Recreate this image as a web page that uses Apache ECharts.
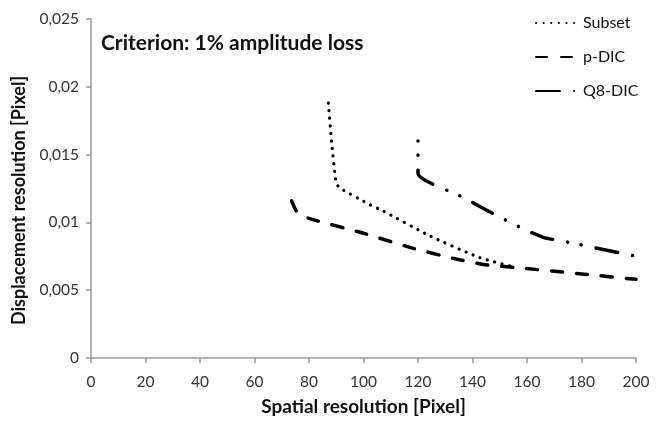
<!DOCTYPE html>
<html>
<head>
<meta charset="utf-8">
<script src="https://cdn.jsdelivr.net/npm/echarts@6/dist/echarts.min.js"></script>
<style>
html,body{margin:0;padding:0;background:#fff;}
#chart{width:660px;height:421px;}
</style>
</head>
<body>
<div id="chart"></div>
<script>
var titleText = "Criterion: 1% amplitude loss";
var xName = "Spatial resolution [Pixel]";
var yName = "Displacement resolution [Pixel]";
var seriesNames = ["Subset", "p-DIC", "Q8-DIC"];

var subsetData = [
  [87.1, 0.0188], [88.3, 0.0159], [89.9, 0.0130], [91.1, 0.01257],
  [102.4, 0.0113], [106.7, 0.0109], [124.4, 0.0090], [142.7, 0.0074], [155.5, 0.0067]
];
var pdicData = [
  [73.6, 0.0116], [75.5, 0.0108], [80, 0.0103], [100, 0.0092], [118, 0.0081],
  [134, 0.0073], [144, 0.0069], [157, 0.00665], [180, 0.0062], [200, 0.0058]
];
var q8Data = [
  [120, 0.0160], [120, 0.0136], [136, 0.0119], [148, 0.0106], [160, 0.0094],
  [166, 0.0089], [176, 0.0085], [200, 0.0075]
];

var fontFam = "Lato, 'Open Sans', sans-serif";
var chart = echarts.init(document.getElementById('chart'), null, {renderer: 'canvas'});

function fmtY(v) {
  if (v === 0) return "0";
  return String(+v.toFixed(3)).replace('.', ',');
}

chart.setOption({
  animation: false,
  backgroundColor: '#fff',
  color: ['#000', '#000', '#000'],
  title: {
    text: titleText,
    left: 96, top: 28,
    textStyle: {fontFamily: fontFam, fontSize: 21, fontWeight: 'bold', color: '#111'}
  },
  legend: {
    orient: 'vertical',
    left: 530, top: 10,
    itemWidth: 42, itemHeight: 14, itemGap: 18,
    data: [
      {name: seriesNames[0]},
      {name: seriesNames[1]},
      {name: seriesNames[2], lineStyle: {type: [24, 14, 0.1, 60], cap: 'round'}}
    ],
    itemStyle: {opacity: 0},
    textStyle: {fontFamily: fontFam, fontSize: 16, color: '#111'}
  },
  grid: {left: 91, right: 24, top: 19, bottom: 60},
  xAxis: {
    type: 'value', min: 0, max: 200, interval: 20,
    name: xName, nameLocation: 'middle', nameGap: 39,
    nameTextStyle: {fontFamily: fontFam, fontSize: 19, fontWeight: 'bold', color: '#111'},
    axisLine: {show: true, lineStyle: {color: '#999', width: 1.5}},
    axisTick: {show: true, length: 5, lineStyle: {color: '#999', width: 1.5}},
    axisLabel: {margin: 16, fontFamily: fontFam, fontSize: 15.5, color: '#333'},
    splitLine: {show: false}
  },
  yAxis: {
    type: 'value', min: 0, max: 0.025, interval: 0.005,
    name: yName, nameLocation: 'middle', nameGap: 51,
    nameTextStyle: {fontFamily: fontFam, fontSize: 18, fontWeight: 'bold', color: '#111', padding: [0, 24, 0, 0]},
    axisLine: {show: true, lineStyle: {color: '#999', width: 1.5}},
    axisTick: {show: true, length: 5, lineStyle: {color: '#999', width: 1.5}},
    axisLabel: {margin: 12, fontFamily: fontFam, fontSize: 15.5, color: '#333', formatter: fmtY},
    splitLine: {show: false}
  },
  series: [
    {
      name: seriesNames[0], type: 'line', data: subsetData, showSymbol: false, symbol: 'none',
      smooth: 0.2,
      lineStyle: {color: '#000', width: 3.2, type: [0.1, 7.5], cap: 'round'}
    },
    {
      name: seriesNames[1], type: 'line', data: pdicData, showSymbol: false, symbol: 'none',
      smooth: 0.2,
      lineStyle: {color: '#000', width: 3.5, type: [11, 14], cap: 'round'}
    },
    {
      name: seriesNames[2], type: 'line', data: q8Data, showSymbol: false, symbol: 'none',
      smooth: 0.2,
      lineStyle: {color: '#000', width: 3.5, type: [0.1, 14, 0.1, 15, 22, 15], cap: 'round'}
    }
  ]
});
</script>
</body>
</html>
